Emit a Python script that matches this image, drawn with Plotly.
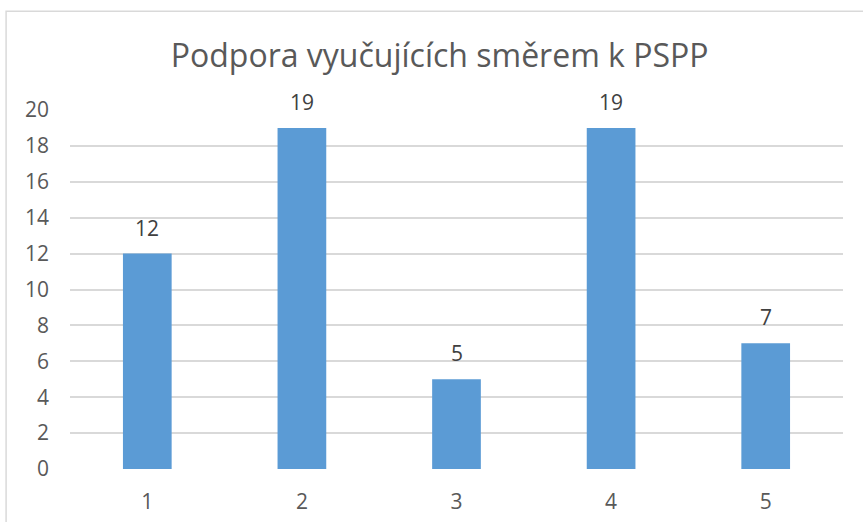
import plotly.graph_objects as go

categories = ["1", "2", "3", "4", "5"]
values = [12, 19, 5, 19, 7]
y_ticks = [0, 2, 4, 6, 8, 10, 12, 14, 16, 18, 20]
title_text = "Podpora vyučujících směrem k PSPP"

W, H = 863, 522
L, R, T, B = 70.4, 19.7, 110, 52.5
pw = W - L - R
ph = H - T - B
FONT = "Open Sans"

def px_x(p):
    return (p - L) / pw

def px_y(p):
    return (H - B - p) / ph

fig = go.Figure(go.Bar(
    x=categories, y=values,
    marker=dict(color="#5B9BD5", line=dict(width=0)),
    cliponaxis=False,
))

annotations = [
    dict(x=i, y=v, xref="x", yref="y", text=str(v), showarrow=False,
         yanchor="bottom", xanchor="center", yshift=10,
         font=dict(size=21, color="#404040", family=FONT))
    for i, v in enumerate(values)
]

fig.update_layout(
    width=W, height=H,
    margin=dict(l=L, r=R, t=T, b=B, pad=0, autoexpand=False),
    paper_bgcolor="white", plot_bgcolor="white",
    bargap=0.685,
    showlegend=False,
    font=dict(family=FONT, color="#595959"),
    title=dict(text=title_text, x=px_x(440), xanchor="center", xref="paper",
               y=1 - 56 / H, yanchor="middle",
               font=dict(size=32, color="#595959", family=FONT)),
    xaxis=dict(type="category", showgrid=False, showline=False, zeroline=False,
               automargin=False,
               tickfont=dict(size=21, color="#595959"), ticklabelstandoff=18),
    yaxis=dict(range=[0, 20], tickvals=y_ticks, showgrid=True, gridcolor="#D9D9D9",
               gridwidth=1.5, zeroline=False, showline=False, automargin=False,
               tickfont=dict(size=21, color="#595959"), ticklabelstandoff=20),
    annotations=annotations,
    shapes=[dict(type="rect", xref="paper", yref="paper",
                 x0=px_x(6.5), x1=px_x(875), y0=px_y(11), y1=px_y(540),
                 line=dict(color="#D9D9D9", width=1.5), fillcolor="rgba(0,0,0,0)",
                 layer="below")],
)

fig.write_html("out.html", config={"displayModeBar": False},
               post_script="document.body.style.margin='0px';document.body.style.overflow='hidden';")
